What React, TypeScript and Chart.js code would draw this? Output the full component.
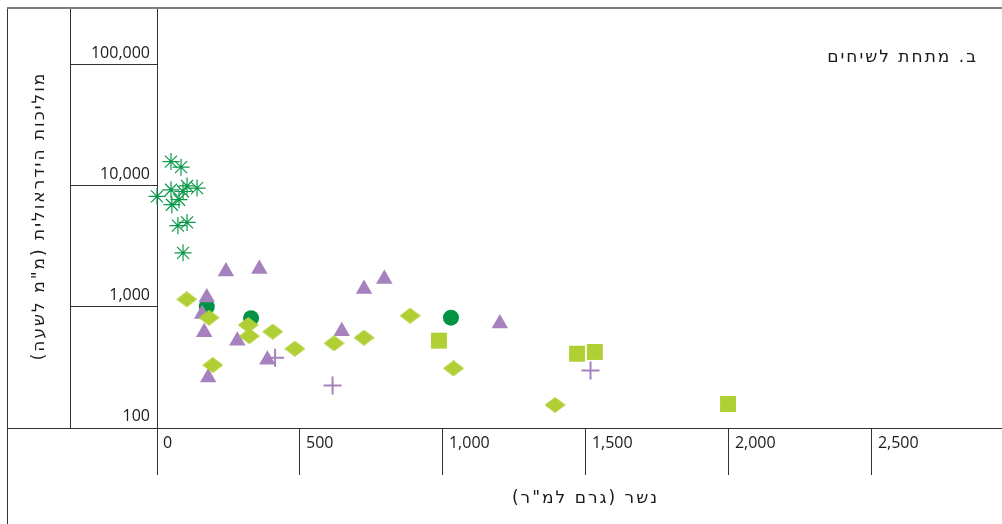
import { useEffect, useRef } from "react";
import { Chart, registerables } from "chart.js";

Chart.register(...registerables);

// Panel b: sediment load (g/m²) against hydraulic conductivity (mm/h), under shrubs.
const panelTitle = "ב. מתחת לשיחים";
const xTitle = "נשר (גרם למ\"ר)";
const yTitle = "מוליכות הידראולית (מ\"מ לשעה)";

const xTickValues = [0, 500, 1000, 1500, 2000, 2500];
const xTickLabels = ["0", "500", "1,000", "1,500", "2,000", "2,500"];
const yTickValues = [100, 1000, 10000, 100000];
const yTickLabels = ["100", "1,000", "10,000", "100,000"];

const X_MIN = 0;
const X_MAX = 2955;
const Y_MIN = 100;
const Y_MAX = 290000;

// asterisks
const starX = [49, 84, 0, 49, 91, 105, 140, 52, 77, 73, 105, 91];
const starY = [15900, 14300, 8200, 9300, 9000, 10000, 9600, 7000, 7700, 4700, 5000, 2800];

// filled circles
const circleX = [174, 329, 1028];
const circleY = [1005, 807, 816];

// triangles
const triX = [241, 358, 174, 158, 165, 281, 386, 179, 646, 724, 795, 1199];
const triY = [1960, 2060, 1200, 875, 617, 527, 367, 262, 629, 1406, 1700, 732];

// diamonds
const diaX = [104, 182, 319, 323, 405, 482, 195, 619, 724, 885, 1037, 1392];
const diaY = [1158, 816, 710, 575, 625, 452, 331, 501, 557, 847, 311, 155];

// squares
const sqX = [986, 1469, 1531, 1997];
const sqY = [527, 411, 425, 158];

// crosses
const crossX = [413, 614, 1516];
const crossY = [381, 224, 298];

const GREEN_STAR = "#0c9a4a";
const GREEN_DOT = "#009245";
const PURPLE = "#a582be";
const LIME = "#b0cf35";
const LINE = "#333333";
const TEXT = "#1a1a1a";
const NUM_FONT = "'Open Sans', 'Noto Sans', sans-serif";
const HEB_FONT = "'DejaVu Sans', sans-serif";

const pts = (xs: number[], ys: number[]) => xs.map((x, i) => ({ x, y: ys[i] }));

function makeDiamond(): HTMLCanvasElement {
  const c = document.createElement("canvas");
  c.width = 21;
  c.height = 16;
  const g = c.getContext("2d")!;
  g.fillStyle = LIME;
  g.beginPath();
  g.moveTo(0, 8);
  g.lineTo(10.5, 0);
  g.lineTo(21, 8);
  g.lineTo(10.5, 16);
  g.closePath();
  g.fill();
  return c;
}

const framePlugin = {
  id: "frame",
  beforeDatasetsDraw(chart: any) {
    const ctx = chart.ctx as CanvasRenderingContext2D;
    const { left, top, bottom, right } = chart.chartArea;
    const xScale = chart.scales.x;
    const axisBottom = xScale.bottom;
    const labelCol = left - chart.options.scales.y.grid.tickLength;
    const H = chart.height;
    ctx.save();
    ctx.strokeStyle = LINE;
    ctx.lineWidth = 1;
    ctx.beginPath();
    // outer left edge
    ctx.moveTo(7.5, top - 1);
    ctx.lineTo(7.5, H);
    // y label column
    ctx.moveTo(labelCol + 0.5, top - 1);
    ctx.lineTo(labelCol + 0.5, bottom);
    // base line left of plot
    ctx.moveTo(7, bottom + 0.5);
    ctx.lineTo(left, bottom + 0.5);
    // x label row lower edge
    ctx.moveTo(left, axisBottom + 0.5);
    ctx.lineTo(right, axisBottom + 0.5);
    // continuation of the plot's left edge
    ctx.moveTo(left - 0.5, axisBottom);
    ctx.lineTo(left - 0.5, H);
    ctx.stroke();
    // top rule
    ctx.strokeStyle = "#7f7f7f";
    ctx.lineWidth = 2;
    ctx.beginPath();
    ctx.moveTo(7, top - 1);
    ctx.lineTo(right, top - 1);
    ctx.stroke();
    ctx.restore();
  },
  afterDraw(chart: any) {
    const ctx = chart.ctx as CanvasRenderingContext2D;
    const { left, right, bottom } = chart.chartArea;
    ctx.save();
    ctx.fillStyle = TEXT;
    ctx.direction = "rtl";
    ctx.font = `17px ${HEB_FONT}`;
    (ctx as any).letterSpacing = "2px";
    ctx.textAlign = "right";
    ctx.textBaseline = "middle";
    ctx.fillText(panelTitle, right - 24, 58);
    ctx.textAlign = "center";
    ctx.fillText(xTitle, (left + right) / 2 + 6, bottom + 71);
    ctx.translate(40, 216);
    ctx.rotate(-Math.PI / 2);
    ctx.fillText(yTitle, 0, 0);
    ctx.restore();
  },
};

export default function App() {
  const ref = useRef<HTMLCanvasElement>(null);

  useEffect(() => {
    if (!ref.current) return;
    const diamond = makeDiamond();
    const chart = new Chart(ref.current, {
      type: "scatter",
      data: {
        datasets: [
          {
            label: "crosses",
            data: pts(crossX, crossY),
            pointStyle: "cross",
            pointRadius: 9,
            borderColor: PURPLE,
            borderWidth: 2,
            clip: false,
          },
          {
            label: "squares",
            data: pts(sqX, sqY),
            pointStyle: "rect",
            pointRadius: 11.3,
            backgroundColor: LIME,
            borderWidth: 0,
            clip: false,
          },
          {
            label: "diamonds",
            data: pts(diaX, diaY),
            pointStyle: diamond,
            pointRadius: 10,
            backgroundColor: LIME,
            borderWidth: 0,
            clip: false,
          },
          {
            label: "triangles",
            data: pts(triX, triY),
            pointStyle: "triangle",
            pointRadius: 9.5,
            backgroundColor: PURPLE,
            borderWidth: 0,
            clip: false,
          },
          {
            label: "circles",
            data: pts(circleX, circleY),
            pointStyle: "circle",
            pointRadius: 8,
            backgroundColor: GREEN_DOT,
            borderWidth: 0,
            clip: false,
          },
          {
            label: "stars",
            data: pts(starX, starY),
            pointStyle: "star",
            pointRadius: 8.5,
            borderColor: GREEN_STAR,
            borderWidth: 1.2,
            clip: false,
          },
        ] as any,
      },
      options: {
        animation: false,
        responsive: false,
        events: [],
        layout: { autoPadding: false, padding: { top: 9, left: 0, right: 0, bottom: 0 } },
        plugins: { legend: { display: false }, tooltip: { enabled: false } },
        scales: {
          x: {
            type: "linear",
            position: "bottom",
            min: X_MIN,
            max: X_MAX,
            afterFit: (s: any) => {
              s.height = 96;
              s.paddingLeft = 0;
              s.paddingRight = 0;
            },
            afterBuildTicks: (s: any) => {
              s.ticks = xTickValues.map((v) => ({ value: v }));
            },
            grid: { drawOnChartArea: false, drawTicks: true, tickLength: 47, color: LINE, lineWidth: 1 },
            border: { display: true, color: LINE, width: 1 },
            ticks: {
              align: "start",
              labelOffset: 6,
              padding: -41,
              autoSkip: false,
              maxRotation: 0,
              minRotation: 0,
              color: TEXT,
              font: { family: NUM_FONT, size: 16 },
              callback: (_v: any, i: number) => xTickLabels[i],
            },
          },
          y: {
            type: "logarithmic",
            position: "left",
            min: Y_MIN,
            max: Y_MAX,
            afterFit: (s: any) => {
              s.width = 157;
              s.paddingTop = 0;
              s.paddingBottom = 0;
            },
            afterBuildTicks: (s: any) => {
              s.ticks = yTickValues.map((v) => ({ value: v }));
            },
            grid: { drawOnChartArea: false, drawTicks: true, tickLength: 87, color: LINE, lineWidth: 1 },
            border: { display: true, color: LINE, width: 1 },
            ticks: {
              labelOffset: -12,
              padding: -80,
              autoSkip: false,
              color: TEXT,
              font: { family: NUM_FONT, size: 16 },
              callback: (_v: any, i: number) => yTickLabels[i],
            },
          },
        },
      } as any,
      plugins: [framePlugin],
    });
    return () => chart.destroy();
  }, []);

  return (
    <div style={{ position: "fixed", left: 0, top: 0, width: 1002, height: 524, background: "#fff" }}>
      <canvas ref={ref} width={1002} height={524} />
    </div>
  );
}
